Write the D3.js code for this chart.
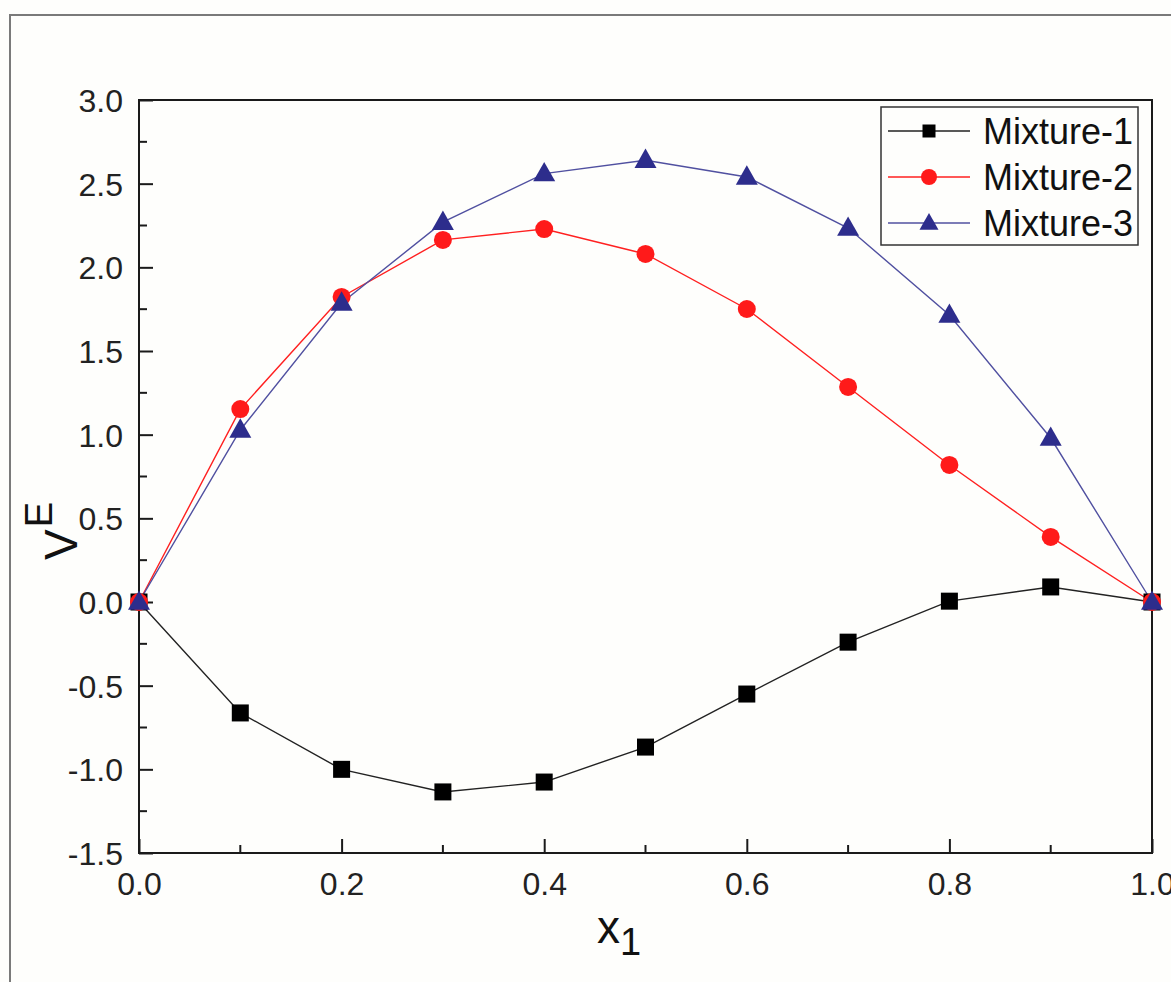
<!DOCTYPE html>
<html><head><meta charset="utf-8">
<script src="https://cdn.jsdelivr.net/npm/d3@7"></script>
<style>body{margin:0;background:#fefefc;} svg{display:block;}</style>
</head><body>
<svg id="c" width="1171" height="982"></svg>
<script>
const xValues = [0.0,0.1,0.2,0.3,0.4,0.5,0.6,0.7,0.8,0.9,1.0];
const mixture1 = [0, -0.663, -1.0, -1.135, -1.076, -0.867, -0.55, -0.24, 0.005, 0.09, 0];
const mixture2 = [0, 1.153, 1.823, 2.164, 2.229, 2.08, 1.751, 1.285, 0.819, 0.389, 0];
const mixture3 = [0, 1.028, 1.787, 2.27, 2.56, 2.64, 2.54, 2.235, 1.715, 0.98, 0];
const seriesNames = ["Mixture-1","Mixture-2","Mixture-3"];
const xTicks = [0.0,0.2,0.4,0.6,0.8,1.0];
const yTicks = [-1.5,-1.0,-0.5,0.0,0.5,1.0,1.5,2.0,2.5,3.0];

const svg = d3.select("#c");
const font = "'Liberation Sans', Arial, sans-serif";
const L=139, R=1152, T=100, B=853;
const x = d3.scaleLinear().domain([0,1]).range([L,R]);
const y = d3.scaleLinear().domain([-1.5,3.0]).range([B,T]);
const fmt = d => d.toFixed(1);

// outer frame
svg.append("path").attr("d",`M10,982 L10,15 L1171,15`).attr("fill","none").attr("stroke","#7a7a7a").attr("stroke-width",2);

// plot box
svg.append("rect").attr("x",L).attr("y",T).attr("width",R-L).attr("height",B-T)
  .attr("fill","none").attr("stroke","#1a1a1a").attr("stroke-width",2);

// axes
const xAxis = d3.axisBottom(x).tickValues(xTicks).tickSize(-14).tickPadding(19).tickFormat(fmt);
const gx = svg.append("g").attr("transform",`translate(0,${B})`).call(xAxis);
const yAxis = d3.axisLeft(y).tickValues(yTicks).tickSize(-14).tickPadding(16).tickFormat(fmt);
const gy = svg.append("g").attr("transform",`translate(${L},0)`).call(yAxis);
[gx,gy].forEach(g=>{
  g.select(".domain").remove();
  g.selectAll(".tick line").attr("stroke","#1a1a1a").attr("stroke-width",2);
  g.selectAll(".tick text").attr("font-family",font).attr("font-size",32).attr("fill","#222");
});
gy.selectAll(".tick text").attr("dy","0.36em");
// minor ticks
const xMinor = d3.range(0.1,1,0.2);
svg.append("g").selectAll("line").data(xMinor).join("line")
  .attr("x1",d=>x(d)).attr("x2",d=>x(d)).attr("y1",B).attr("y2",B-8).attr("stroke","#1a1a1a").attr("stroke-width",2);
const yMinor = d3.range(-1.25,3,0.5);
svg.append("g").selectAll("line").data(yMinor).join("line")
  .attr("x1",L).attr("x2",L+8).attr("y1",d=>y(d)).attr("y2",d=>y(d)).attr("stroke","#1a1a1a").attr("stroke-width",2);

// axis labels
const xl = svg.append("text").attr("x",597).attr("y",943).attr("font-family",font).attr("font-size",46).attr("fill","#111");
xl.append("tspan").text("x");
xl.append("tspan").attr("font-size",38).attr("dy",12).text("1");

const yl = svg.append("text").attr("transform","translate(77,560) rotate(-90)").attr("font-family",font).attr("font-size",46).attr("fill","#111");
yl.append("tspan").text("V");
yl.append("tspan").attr("font-size",38).attr("dy",-25).attr("dx",2).text("E");

const series = [
  {name:seriesNames[0], vals:mixture1, line:"#222", fill:"#000", shape:"square"},
  {name:seriesNames[1], vals:mixture2, line:"#ff2020", fill:"#ff1a1a", shape:"circle"},
  {name:seriesNames[2], vals:mixture3, line:"#5050a0", fill:"#2d2d8c", shape:"triangle"}
];
const lineGen = d3.line().x((d,i)=>x(xValues[i])).y(d=>y(d));

function marker(g, shape, cx, cy, s, fill){
  if(shape==="square"){
    g.append("rect").attr("x",cx-s/2).attr("y",cy-s/2).attr("width",s).attr("height",s).attr("fill",fill);
  } else if(shape==="circle"){
    g.append("circle").attr("cx",cx).attr("cy",cy).attr("r",s/2).attr("fill",fill);
  } else {
    const h = s*0.88;
    g.append("path").attr("d",`M${cx},${cy-h*0.6} L${cx+s/2},${cy+h*0.4} L${cx-s/2},${cy+h*0.4} Z`).attr("fill",fill);
  }
}

series.forEach(s=>{
  svg.append("path").datum(s.vals).attr("d",lineGen).attr("fill","none").attr("stroke",s.line).attr("stroke-width",1.4);
});
series.forEach(s=>{
  const g = svg.append("g");
  const size = s.shape==="square"?17:(s.shape==="circle"?18:22);
  s.vals.forEach((v,i)=>marker(g,s.shape,x(xValues[i]),y(v),size,s.fill));
});

// legend
const lg = svg.append("g");
lg.append("rect").attr("x",881).attr("y",107).attr("width",257).attr("height",138).attr("fill","#fefefc").attr("stroke","#333").attr("stroke-width",1.5);
const rowsY = [131,177,223];
series.forEach((s,i)=>{
  const yy = rowsY[i];
  lg.append("line").attr("x1",888).attr("x2",970).attr("y1",yy).attr("y2",yy).attr("stroke",s.line).attr("stroke-width",1.4);
  const size = s.shape==="square"?13:(s.shape==="circle"?16:19);
  marker(lg,s.shape,929,yy,size,s.fill);
  lg.append("text").attr("x",983).attr("y",yy+13).attr("font-family",font).attr("font-size",36).attr("fill","#111").text(s.name);
});
</script>
</body></html>
